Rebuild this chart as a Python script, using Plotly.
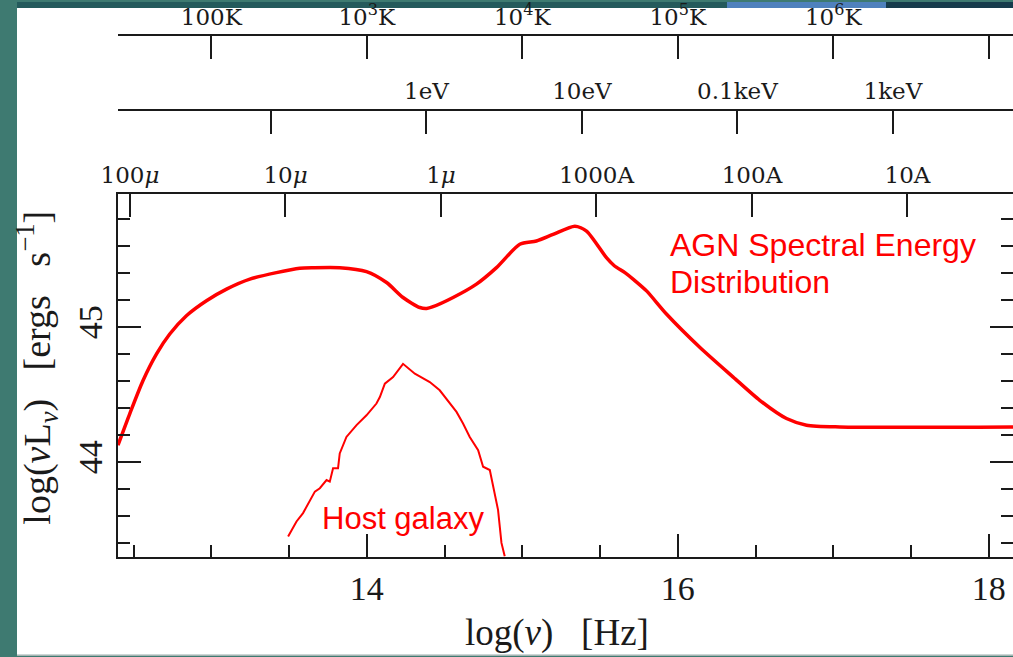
import numpy as np
import plotly.graph_objects as go

# ---------------- data ----------------
agn_lognu = [12.40, 12.476, 12.561, 12.648, 12.733, 12.84, 12.969, 13.098, 13.248, 13.419,
             13.569, 13.655, 13.826, 13.998, 14.127, 14.233, 14.341, 14.385, 14.426, 14.555,
             14.705, 14.834, 14.984, 15.091, 15.198, 15.338, 15.413, 15.541, 15.590, 15.660,
             15.720, 15.799, 15.927, 16.141, 16.356, 16.527, 16.699, 16.828, 17.042, 18.2]
agn_lognuLnu = [44.128, 44.362, 44.607, 44.804, 44.951, 45.086, 45.197, 45.283, 45.357, 45.405,
                45.438, 45.442, 45.442, 45.413, 45.332, 45.221, 45.147, 45.140, 45.153, 45.221,
                45.32, 45.442, 45.615, 45.639, 45.688, 45.749, 45.713, 45.516, 45.458, 45.405,
                45.350, 45.27, 45.099, 44.853, 44.632, 44.46, 44.325, 44.276, 44.263, 44.263]

host_lognu = [13.494, 13.548, 13.590, 13.623, 13.666, 13.698, 13.741, 13.762, 13.783, 13.815,
              13.826, 13.869, 13.934, 13.998, 14.062, 14.084, 14.116, 14.169, 14.233, 14.309,
              14.405, 14.469, 14.534, 14.577, 14.619, 14.662, 14.716, 14.748, 14.791, 14.812,
              14.844, 14.866, 14.887]
host_lognuLnu = [43.452, 43.563, 43.625, 43.694, 43.784, 43.809, 43.870, 43.858, 43.957, 43.957,
                 44.067, 44.189, 44.276, 44.349, 44.436, 44.484, 44.583, 44.632, 44.730, 44.657,
                 44.595, 44.534, 44.436, 44.374, 44.288, 44.189, 44.091, 43.968, 43.944, 43.821,
                 43.649, 43.404, 43.305]

# secondary scales
wavelength_cm = [1e-2, 1e-3, 1e-4, 1e-5, 1e-6, 1e-7]
wavelength_labels = ["100<i>μ</i>", "10<i>μ</i>", "1<i>μ</i>", "1000A", "100A", "10A"]
energy_eV = [0.1, 1, 10, 100, 1000]
energy_labels = ["", "1eV", "10eV", "0.1keV", "1keV"]
temperature_K = [1e2, 1e3, 1e4, 1e5, 1e6, 1e7]
temperature_labels = ["100K", "10<sup>3</sup>K", "10<sup>4</sup>K", "10<sup>5</sup>K",
                      "10<sup>6</sup>K", ""]

C_CGS = 3e10
EV_TO_HZ = 2.418e14
T_TO_LOGNU_OFFSET = 11.0

wl_ticks = [np.log10(C_CGS / w) for w in wavelength_cm]
en_ticks = [np.log10(e * EV_TO_HZ) for e in energy_eV]
t_ticks = [np.log10(t) + T_TO_LOGNU_OFFSET for t in temperature_K]

# ---------------- layout geometry ----------------
W, H = 1013, 657
ML, MR, MT, MB = 118, 0, 0, 100
PW, PH = W - ML - MR, H - MT - MB
XR = [12.4, 12.4 + PW / 155.5]
YR = [43.3, 45.985]
ytop_px = 193
ydom = [0, (PH - ytop_px) / PH]

def py(p):  # pixel y -> paper y
    return (PH - p) / PH

def px(p):  # pixel x -> paper x
    return (p - ML) / PW

RED = "#ff0000"
INK = "#1a1a1a"
serif = "Liberation Serif"
topfont = dict(family="DejaVu Serif", size=23, color=INK)

fig = go.Figure()
fig.add_trace(go.Scatter(x=agn_lognu, y=agn_lognuLnu, mode="lines",
                         line=dict(color=RED, width=3.5, shape="spline", smoothing=0.7),
                         hoverinfo="skip", showlegend=False))
fig.add_trace(go.Scatter(x=host_lognu, y=host_lognuLnu, mode="lines",
                         line=dict(color=RED, width=2), hoverinfo="skip", showlegend=False))
# dummy trace for the right axis
fig.add_trace(go.Scatter(x=[XR[0]], y=[YR[0]], yaxis="y2", mode="markers",
                         marker=dict(opacity=0), hoverinfo="skip", showlegend=False))

axis_common = dict(showgrid=False, zeroline=False, linecolor=INK, linewidth=2,
                   tickcolor=INK, tickwidth=2)

fig.update_layout(
    width=W, height=H,
    margin=dict(l=ML, r=MR, t=MT, b=MB, pad=0),
    paper_bgcolor="#3e7a71",
    plot_bgcolor="rgba(0,0,0,0)",
    xaxis=dict(range=XR, domain=[0, 1], anchor="y", showline=True, mirror=False,
               ticks="inside", ticklen=23, tickvals=[14, 16, 18], ticktext=["14", "16", "18"],
               tickfont=dict(family=serif, size=34, color=INK),
               minor=dict(dtick=0.5, tick0=0, ticks="inside", ticklen=12, tickwidth=2, tickcolor=INK),
               **axis_common),
    yaxis=dict(range=YR, domain=ydom, anchor="x", showline=True, mirror=False,
               ticks="inside", ticklen=23, tickvals=[44, 45], ticktext=["44", "45"], tickangle=-90,
               tickfont=dict(family=serif, size=34, color=INK),
               minor=dict(dtick=0.2, tick0=0, ticks="inside", ticklen=12, tickwidth=2, tickcolor=INK),
               **axis_common),
    yaxis2=dict(range=YR, overlaying="y", side="right", anchor="x", showline=False,
                ticks="inside", ticklen=23, tickvals=[44, 45], showticklabels=False,
                minor=dict(dtick=0.2, tick0=0, ticks="inside", ticklen=12, tickwidth=2, tickcolor=INK),
                **axis_common),
    xaxis2=dict(range=XR, overlaying="x", side="top", anchor="y", showline=True,
                ticks="inside", ticklen=23, tickvals=wl_ticks, ticktext=wavelength_labels,
                tickfont=topfont, **axis_common),
    xaxis3=dict(range=XR, overlaying="x", side="top", anchor="free", position=py(108),
                showline=True, ticks="inside", ticklen=23, tickvals=en_ticks,
                ticktext=energy_labels, tickfont=topfont, **axis_common),
    xaxis4=dict(range=XR, overlaying="x", side="top", anchor="free", position=py(33),
                showline=True, ticks="inside", ticklen=23, tickvals=t_ticks,
                ticktext=temperature_labels, tickfont=topfont, **axis_common),
)
# attach invisible traces to the extra x axes so they render
for xa in ["x2", "x3", "x4"]:
    fig.add_trace(go.Scatter(x=[XR[0]], y=[YR[0]], xaxis=xa, mode="markers",
                             marker=dict(opacity=0), hoverinfo="skip", showlegend=False))

shapes = [
    dict(type="rect", xref="paper", yref="paper", x0=px(17), x1=px(1013), y0=py(655), y1=py(6),
         fillcolor="white", line=dict(width=0), layer="below"),
    dict(type="rect", xref="paper", yref="paper", x0=px(17), x1=px(1013), y0=py(656), y1=py(655),
         fillcolor="#c8c8c8", line=dict(width=0), layer="below"),
    dict(type="rect", xref="paper", yref="paper", x0=px(17), x1=px(727), y0=py(6), y1=py(0),
         fillcolor="#245a5c", line=dict(width=0), layer="below"),
    dict(type="rect", xref="paper", yref="paper", x0=px(727), x1=px(886), y0=py(6), y1=py(0),
         fillcolor="#4f81bd", line=dict(width=0), layer="below"),
    dict(type="rect", xref="paper", yref="paper", x0=px(886), x1=px(1013), y0=py(6), y1=py(0),
         fillcolor="#163b4c", line=dict(width=0), layer="below"),
]
fig.update_layout(shapes=shapes)

sans = "Liberation Sans"
annotations = [
    dict(text="AGN Spectral Energy", x=15.94, y=45.61, xref="x", yref="y", xanchor="left",
         yanchor="middle", showarrow=False, font=dict(family=sans, size=32, color=RED)),
    dict(text="Distribution", x=15.94, y=45.337, xref="x", yref="y", xanchor="left",
         yanchor="middle", showarrow=False, font=dict(family=sans, size=32, color=RED)),
    dict(text="Host galaxy", x=13.70, y=43.583, xref="x", yref="y", xanchor="left",
         yanchor="middle", showarrow=False, font=dict(family=sans, size=31, color=RED)),
    dict(text="log(<i>ν</i>)&nbsp;&nbsp;&nbsp;[Hz]", x=px(557), y=py(633), xref="paper", yref="paper",
         xanchor="center", yanchor="middle", showarrow=False,
         font=dict(family=serif, size=37, color=INK)),
    dict(text="log(<i>ν</i>L<sub><i>ν</i></sub>)&nbsp;&nbsp;&nbsp;[ergs&nbsp;&nbsp;&nbsp;s<sup>−1</sup>]",
         x=px(37), y=py(367),
         xref="paper", yref="paper", xanchor="center", yanchor="middle", showarrow=False,
         textangle=-90, font=dict(family=serif, size=38, color=INK)),
]
fig.update_layout(annotations=annotations)

fig.write_html("out.html")
